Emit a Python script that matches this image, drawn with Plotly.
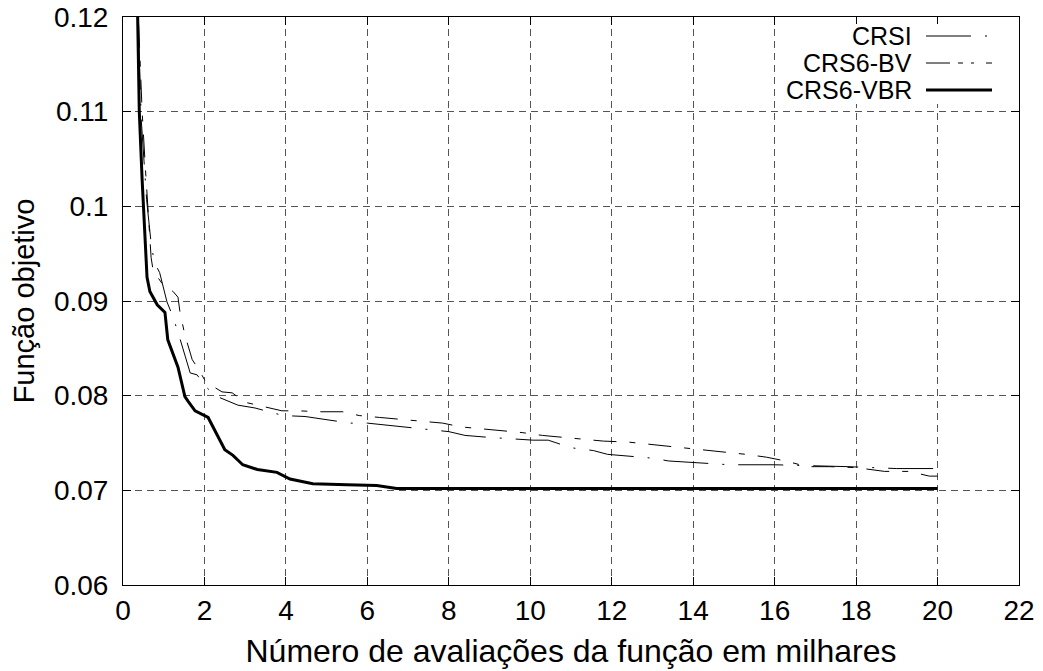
import plotly.graph_objects as go

# ---- data ----
x_crsi = [0.33, 0.45, 0.58, 0.70, 0.78, 0.90, 1.08, 1.23, 1.40, 1.57, 1.65, 1.82, 2.00, 2.26, 2.43,
          2.82, 3.24, 3.93, 4.47, 5.00, 5.57, 6.00, 7.04, 7.46, 8.00, 8.40, 8.97, 10.07, 10.44,
          11.00, 11.55, 11.90, 13.00, 13.40, 14.20, 14.90, 16.00, 17.00, 17.80, 19.00, 20.00]
y_crsi = [0.125, 0.109, 0.1007, 0.0957, 0.0940, 0.0930, 0.0899, 0.0883, 0.0860, 0.0836, 0.0824,
          0.0822, 0.0811, 0.0800, 0.0797, 0.0790, 0.0787, 0.0779, 0.0778, 0.0775, 0.0771, 0.0771,
          0.0766, 0.0764, 0.0762, 0.0758, 0.0756, 0.0753, 0.0753, 0.0745, 0.0742, 0.0738, 0.0734,
          0.0731, 0.0729, 0.0727, 0.0727, 0.0726, 0.0725, 0.0723, 0.0723]

x_bv = [0.33, 0.47, 0.55, 0.65, 0.69, 0.74, 0.91, 1.00, 1.23, 1.35, 1.40, 1.52, 1.70, 1.84, 2.00,
        2.20, 2.43, 2.68, 3.00, 3.90, 4.30, 4.83, 5.40, 5.80, 6.30, 6.80, 7.30, 7.85, 8.30, 8.80,
        9.30, 9.80, 10.30, 10.80, 11.30, 11.80, 12.40, 12.85, 13.30, 13.86, 14.30, 14.80, 15.30,
        15.80, 16.27, 16.80, 17.35, 18.00, 18.70, 19.30, 19.80, 20.00]
y_bv = [0.125, 0.110, 0.104, 0.098, 0.0946, 0.0932, 0.0922, 0.0916, 0.0910, 0.0904, 0.0888,
        0.0864, 0.0838, 0.0829, 0.0817, 0.0810, 0.0804, 0.0803, 0.0793, 0.0784, 0.0784, 0.0783,
        0.0783, 0.0779, 0.0777, 0.0775, 0.0773, 0.0771, 0.0767, 0.0765, 0.0763, 0.0761, 0.0758,
        0.0756, 0.0754, 0.0752, 0.0751, 0.0749, 0.0747, 0.0745, 0.0743, 0.0741, 0.0738, 0.0735,
        0.0731, 0.0725, 0.0725, 0.0724, 0.0720, 0.0720, 0.0715, 0.0715]

x_vbr = [0.34, 0.40, 0.47, 0.55, 0.59, 0.66, 0.84, 1.03, 1.10, 1.35, 1.52, 1.60, 1.77, 2.09, 2.30,
         2.50, 2.70, 2.94, 3.30, 3.78, 4.10, 4.66, 5.50, 6.23, 6.72, 8.00, 20.00]
y_vbr = [0.125, 0.110, 0.1028, 0.0960, 0.0925, 0.0910, 0.0896, 0.0888, 0.0859, 0.0830, 0.0799,
         0.0794, 0.0784, 0.0777, 0.0760, 0.0743, 0.0737, 0.0727, 0.0722, 0.0719, 0.0712, 0.0707,
         0.0706, 0.0705, 0.0702, 0.0702, 0.0702]

series_names = ["CRSI", "CRS6-BV", "CRS6-VBR"]
x_ticks = [0, 2, 4, 6, 8, 10, 12, 14, 16, 18, 20, 22]
y_ticks = [0.06, 0.07, 0.08, 0.09, 0.10, 0.11, 0.12]
y_ticklabels = ["0.06", "0.07", "0.08", "0.09", "0.1", "0.11", "0.12"]

FONT = "Arial"
DASH_CRSI = "45px,14px,2px,14px"
DASH_BV = "23px,13px,6px,13px"

fig = go.Figure()
fig.add_trace(go.Scatter(x=x_crsi, y=y_crsi, mode="lines", name=series_names[0],
                         line=dict(color="black", width=1, dash=DASH_CRSI), showlegend=False))
fig.add_trace(go.Scatter(x=x_bv, y=y_bv, mode="lines", name=series_names[1],
                         line=dict(color="black", width=1, dash=DASH_BV), showlegend=False))
fig.add_trace(go.Scatter(x=x_vbr, y=y_vbr, mode="lines", name=series_names[2],
                         line=dict(color="black", width=3), showlegend=False))

W, H = 1043, 671
L, R, T, B = 123, 24, 17, 86
pw, ph = W - L - R, H - T - B

def px2paper(px, py):
    return (px - L) / pw, (H - B - py) / ph

# opaque key box (hides the grid behind the key, as in the reference)
x0, y0 = px2paper(792, 104)
x1, y1 = px2paper(1005, 24)
fig.add_shape(type="rect", xref="paper", yref="paper", x0=x0, x1=x1, y0=y0, y1=y1,
              fillcolor="white", line=dict(width=0), layer="above")

leg_y = [36, 63, 90]
leg_dash = [DASH_CRSI, "24px,8px,5px,8px,3px,12px", "solid"]
leg_w = [1, 1, 3]
for name, py, d, w in zip(series_names, leg_y, leg_dash, leg_w):
    tx, ty = px2paper(913, py)
    fig.add_annotation(x=tx, y=ty, xref="paper", yref="paper", text=name, showarrow=False,
                       xanchor="right", yanchor="middle", borderpad=0,
                       font=dict(family=FONT, size=25, color="black"))
    sx0, sy = px2paper(926, py)
    sx1, _ = px2paper(992, py)
    fig.add_shape(type="line", xref="paper", yref="paper", x0=sx0, x1=sx1, y0=sy, y1=sy,
                  line=dict(color="black", width=w, dash=d), layer="above")

axis_common = dict(showline=True, linecolor="black", linewidth=1, mirror="ticks",
                   ticks="inside", ticklen=8, tickcolor="black", tickwidth=1,
                   showgrid=True, gridcolor="#555555", griddash="7px,5px", gridwidth=1,
                   zeroline=False, automargin=False,
                   tickfont=dict(family=FONT, size=28, color="black"))

fig.update_xaxes(range=[0, 22], tickvals=x_ticks, ticktext=[str(v) for v in x_ticks],
                 title=dict(text="Número de avaliações da função em milhares",
                            font=dict(family=FONT, size=32, color="black"), standoff=15),
                 **axis_common)
fig.update_yaxes(range=[0.06, 0.12], tickvals=y_ticks, ticktext=y_ticklabels,
                 ticklabelstandoff=8,
                 title=dict(text="Função objetivo", font=dict(family=FONT, size=29, color="black"),
                            standoff=10),
                 **axis_common)

fig.update_layout(width=W, height=H, margin=dict(l=L, r=R, t=T, b=B, autoexpand=False),
                  paper_bgcolor="white", plot_bgcolor="white", showlegend=False)

fig.write_html("out.html")
